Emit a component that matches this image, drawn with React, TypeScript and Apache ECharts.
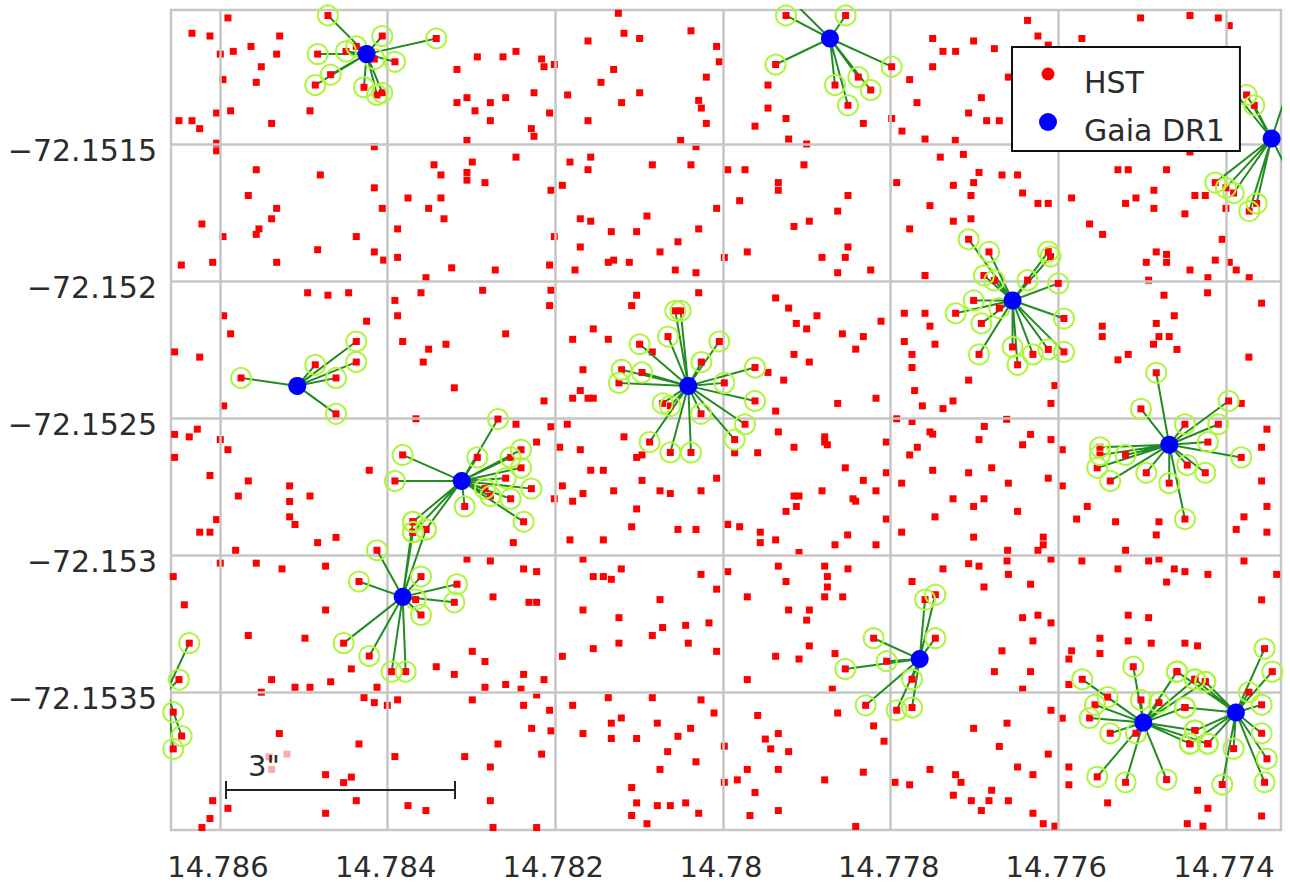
import React, { useEffect, useRef } from "react";
import * as echarts from "echarts";

// Sky positions are stored as micro-degree offsets: RA = 14.77 + a/1e6, Dec = -72.15 - b/1e6
const RA_BASE = 14.77;
const DEC_BASE = -72.15;
const raTicks = [14.786, 14.784, 14.782, 14.78, 14.778, 14.776, 14.774];
const decTicks = [-72.1515, -72.152, -72.1525, -72.153, -72.1535];

const hstField: number[][] = [
[15905,1040],[16334,1096],[16119,1106],[15288,1106],[15630,1144],[15996,1172],[15841,1162],[15324,1172],[15507,1218],[15964,1265],[15567,1275],[15873,1379],[16040,1387],[16489,1415],[16334,1415],[16242,1444],[15384,1425],[14926,1379],[16040,1497],[16040,1525],[14159,1510],[15567,1594],[14803,1613],[13447,1576],[13364,1613],[14159,1660],[15662,1688],[13757,1697],[13364,1697],[15324,1735],[14064,1735],[13511,1735],[15384,1773],[13328,1773],[16215,1792],[15535,1810],[15567,1830],[13881,1810],[15964,1838],[14374,1838],[14835,1886],[14159,1894],[14048,1924],[13881,1914],[16461,1942],[16087,1932],[15324,1932],[13543,1988],
[11248,1023],[11181,1096],[10994,1115],[10382,1087],[11610,1124],[10076,1144],[12930,1182],[12624,1182],[12469,1162],[12163,1190],[12135,1218],[12012,1210],[13173,1228],[11304,1228],[10044,1200],[10199,1256],[11455,1275],[12254,1313],[11853,1321],[10994,1313],[13054,1331],[13173,1349],[12775,1349],[12592,1331],[11209,1349],[10290,1341],[10258,1369],[12958,1379],[12068,1387],[12775,1415],[11610,1415],[10199,1425],[12286,1444],[12254,1472],[13054,1487],[10505,1487],[10322,1510],[12469,1548],[12990,1566],[11825,1566],[11578,1548],[11610,1594],[10843,1576],[10382,1576],[9944,1594],[13054,1604],[13054,1632],[12839,1641],[11916,1651],[12052,1669],[10076,1735],[11702,1773],[11578,1782],[10907,1763],[11332,1820],[11030,1820],[10290,1810],[12012,1838],[10537,1857],[11702,1876],[10751,1894],[11368,1932],[11304,1924],[11117,1932],[9984,1914],[13236,1952],[12716,1960],[12068,1942],[11765,1960],[10569,1960],[10322,1970],
[9463,1285],[9463,1369],[9248,1407],[9618,1435],[8326,1425],[7988,1407],[9217,1482],[9002,1500],[7865,1453],[7590,1482],[7229,1487],[7499,1115],[7376,1162],[7225,1162],[7010,1124],[6763,1152],[7499,1218],[6596,1256],[7773,1265],[6918,1331],[7686,1349],[7070,1387],[6855,1415],[6704,1415],[9737,1594],[9034,1576],[9340,1641],[9340,1669],[9801,1707],[8509,1688],[8632,1745],[9153,1801],[8970,1782],[9710,1894],[8509,1876],[8819,1914],[8541,1914],[8632,1970],[8238,1960],[7408,1548],[7133,1538],[6946,1604],[6672,1613],[7928,1641],[7252,1651],[7010,1641],[7042,1688],[7531,1725],[7252,1782],[7042,1773],[7773,1810],[7590,1980],
[6367,1049],[6243,1106],[6120,1139],[5719,1115],[5019,1040],[4430,1031],[4092,1040],[3961,1068],[6486,1613],[5289,1594],[5166,1594],[4709,1594],[6426,1679],[6243,1717],[6120,1717],[5842,1697],[4860,1669],[5074,1697],[5198,1717],[4371,1688],[4247,1688],[4860,1735],[4490,1755],[4001,1735],[5627,1792],[5472,1830],[4045,1848],[4832,1894],[4709,1903],[4709,1932],[4951,1932],[4128,1924],[3961,1932],[3878,1960],[3723,1988],[4430,1960],[4216,1988],[4923,1997],[4430,1529],
[14954,2043],[14712,2052],[14465,2043],[13913,2071],[13602,2043],[15956,2127],[13881,2127],[14251,2147],[15873,2193],[13821,2221],[13511,2249],[13304,2231],[16541,2259],[16242,2278],[13575,2296],[15956,2456],[13662,2503],[16541,2560],[16366,2569],[16270,2541],[15996,2579],[15905,2616],[16541,2644],[16119,2710],[15662,2730],[14219,2691],[15781,2785],[15169,2748],[15169,2805],[14926,2785],[15169,2861],[15105,2889],[16040,2871],[16242,2917],[16119,2917],[14616,2936],[14835,2955],[15813,2983],
[12867,2034],[12052,2034],[12068,2090],[12592,2193],[13205,2390],[12135,2438],[11030,2052],[11089,2090],[10290,2043],[11547,2175],[11793,2213],[11368,2213],[11670,2324],[11702,2400],[11793,2428],[11610,2428],[11547,2428],[10843,2259],[12469,2523],[12052,2532],[11857,2523],[12223,2588],[11181,2569],[11948,2607],[11702,2616],[11030,2644],[10966,2635],[11578,2691],[11427,2691],[10966,2728],[10076,2720],[11916,2748],[11670,2776],[11304,2766],[10751,2766],[10628,2776],[10262,2766],[12012,2795],[11793,2804],[11030,2832],[11089,2897],[10537,2907],[10322,2907],[9944,2888],[11825,2945],[11427,2945],[12501,2955],
[9372,2062],[9217,2099],[9125,2155],[8879,2127],[9002,2175],[8576,2193],[8326,2203],[8417,2249],[8115,2147],[9153,2268],[8970,2296],[9463,2334],[9276,2362],[8632,2447],[8175,2428],[9372,2475],[9340,2551],[9861,2627],[9586,2627],[9153,2607],[8787,2569],[8787,2588],[8755,2598],[8052,2588],[8541,2682],[8052,2700],[8326,2728],[8819,2766],[8175,2766],[9153,2785],[9093,2785],[8449,2795],[8417,2804],[9125,2823],[9248,2841],[8052,2869],[9948,2889],[9801,2897],[9555,2917],[9555,2955],[9372,2945],[8513,2927],[8664,2963],[8175,2963],[9093,2991],[7837,2118],[7590,2118],[7531,2165],[7837,2221],[7471,2231],[7745,2268],[7745,2316],[7070,2362],[7714,2400],[7622,2456],[7376,2466],[7256,2438],[7928,2503],[7745,2513],[6883,2531],[7531,2551],[7499,2559],[6946,2579],[7682,2607],[7773,2635],[7499,2691],[7070,2700],[6795,2682],[7869,2738],[7256,2795],[6887,2795],[7010,2823],[7471,2861],[7869,2917],[7010,2935],[6616,2505],[6596,2738],
[4740,2052],[4220,2043],[3575,2081],[4617,2127],[4832,2155],[5476,2165],[5476,2203],[4800,2203],[4677,2203],[4864,2231],[4585,2250],[5166,2268],[5289,2288],[3727,2278],[6041,2382],[6088,2447],[3818,2447],[3512,2541],[3575,2607],[6331,2560],[6426,2598],[6088,2579],[5953,2616],[6120,2720],[5953,2748],[3575,2730],[5655,2823],[3512,2823],[6486,2841],[5782,2869],[3786,2861],[5317,2879],[4800,2879],[3878,2907],[3512,2917],[4832,2927],[6180,2935],[6180,2963],[6243,2983],[6605,2983],[5198,2983],
[15996,3030],[15567,3030],[15260,3051],[14740,3041],[16557,3079],[16425,3182],[14740,3201],[15662,3294],[14986,3304],[14433,3416],[13420,3408],[15384,3455],[15105,3483],[14926,3483],[14680,3463],[14127,3483],[15507,3501],[14282,3521],[14159,3539],[14004,3549],[13881,3529],[15292,3652],[14342,3690],[13913,3736],[14740,3802],[14433,3811],[14525,3831],[16087,3897],[14374,3897],[13757,3915],[13543,3933],[15905,3925],[16119,3962],[16215,3995],[14740,3943],
[13054,3015],[12775,3022],[12378,3051],[12223,3061],[12743,3153],[12314,3173],[12223,3173],[12990,3352],[12839,3389],[13205,3436],[12378,3436],[12592,3473],[12135,3455],[12839,3483],[12409,3490],[12990,3529],[12223,3511],[12378,3549],[12068,3567],[12282,3633],[12052,3642],[12684,3690],[13081,3736],[12163,3727],[12775,3774],[12775,3897],[12743,3995],[12223,3995],[11670,3015],[11547,3079],[11427,3079],[11332,3089],[11213,3051],[10262,3071],[9944,3061],[10076,3125],[10751,3163],[11670,3201],[11241,3229],[10720,3265],[10843,3294],[10445,3257],[10167,3248],[11241,3322],[10414,3322],[11547,3342],[11916,3370],[10076,3352],[11368,3521],[10843,3521],[10262,3529],[11793,3549],[10107,3577],[11213,3595],[11332,3614],[10783,3614],[10386,3633],[11670,3652],[11332,3670],[11030,3670],[10537,3662],[10660,3718],[9984,3698],[10322,3755],[10751,3783],[9984,3830],[11089,3849],[11030,3905],[10783,3915],[10628,3915],[10445,3905],[10290,3943],[11089,3951],[10907,3981],
[9340,3041],[8787,3041],[8509,3051],[9248,3097],[8755,3079],[8755,3117],[8787,3153],[8572,3153],[9710,3153],[9217,3201],[8970,3201],[9002,3238],[8970,3332],[9372,3370],[9093,3380],[8664,3360],[9710,3455],[8696,3490],[7376,3051],[7070,3032],[6946,3041],[6612,3022],[6596,3071],[7745,3097],[6887,3117],[6672,3350],[6763,3426],[9586,3586],[8632,3577],[8203,3624],[8079,3680],[9340,3652],[9495,3672],[9431,3708],[9217,3718],[9710,3783],[9340,3783],[9829,3821],[8787,3821],[8326,3793],[9618,3867],[9340,3933],[9678,3951],[8417,3991],[7948,3830],[7773,3839],[7531,3783],[7225,3802],[7161,3830],[7252,3877],[6795,3859],[7038,3897],[6827,3897],[6918,3933],[7010,3633],[6612,3614],[6704,3699],[6596,3897],
[6088,3015],[5719,3022],[5289,3051],[4923,3022],[4800,3015],[4617,3051],[4490,3061],[4216,3071],[4709,3099],[3786,3022],[3396,3071],[3575,3164],[6331,3107],[6426,3229],[6243,3220],[6088,3248],[5166,3220],[4923,3229],[5504,3304],[5166,3314],[4892,3322],[4490,3322],[4339,3332],[6303,3314],[5504,3360],[5842,3350],[5874,3380],[6331,3426],[5874,3473],[6426,3490],[6088,3567],[5953,3596],[6120,3727],[6486,3774],[6303,3802],[5874,3774],[5874,3839],[5412,3905],[4339,3859],[4216,3925],[6303,3943],[6180,3981],[6041,3990],[4462,3981],[4275,3990],[3575,3953],
];
const hstFaded: number[][] = [[15415,3737],[15201,3727],[15384,3783]];

const gaiaCentres: number[][] = [
[14251,1172],[15078,2383],[8724,1115],[3456,1480],[13117,2730],[6546,2071],[10414,2383],[4677,2598],[13821,3153],[16636,3499],[7654,3380],[4987,3612],[3882,3575],
];

const matches0 = [[14712,1031],[14064,1106],[13420,1115],[14374,1144],[14497,1162],[14835,1172],[14159,1190],[13913,1200],[14680,1247],[14863,1285],[14282,1293],[14064,1313],[14127,1321]];
const matches1 = [[15749,2354],[14863,2306],[14374,2221],[14374,2296],[14616,2354],[14616,2485]];
const matches2 = [[9248,1031],[9181,975],[8537,1031],[9372,1210],[7988,1218],[8386,1256],[8664,1285],[8238,1303],[8509,1359]];
const matches3 = [[3754,1321],[3663,1359],[4013,1267],[3297,1334],[4128,1641],[4001,1660],[3909,1679],[3635,1717],[3723,1745],[3317,1565]];
const matches4 = [[12684,2504],[12930,2644],[12533,2644],[12409,2616],[12409,2682],[12592,2720],[12286,2758],[12839,2758],[12775,2785],[12533,2795],[13081,2823],[12378,2879],[13821,2635],[13913,2730],[13698,2879],[13698,2917],[13543,2907]];
const matches5 = [[7070,1848],[6827,1894],[6887,1980],[6763,1998],[6120,1893],[6092,1911],[6367,1997],[6001,2009],[7010,2071],[7225,2118],[6918,2155],[6704,2099],[6946,2268],[5933,2137],[5933,2259],[6120,2250],[6303,2268],[6546,2241],[6486,2306]];
const matches6 = [[10569,2109],[10505,2109],[10044,2221],[10656,2203],[10994,2231],[10258,2296],[11209,2324],[10966,2334],[11241,2372],[9984,2372],[10720,2447],[10628,2456],[10262,2485],[10875,2588],[10628,2626],[10382,2626],[9618,2316],[9618,2438],[9737,2523],[9861,2579]];
const matches7 = [[4832,2335],[5015,2467],[3969,2438],[4490,2523],[4092,2523],[4216,2588],[3818,2644],[5504,2607],[5504,2635],[5198,2635],[5536,2682],[5381,2730],[4951,2700],[4462,2672],[4247,2700],[4677,2738],[4490,2869]];
const matches8 = [[14342,3097],[13602,3079],[14525,3322],[14219,3369],[13952,3426],[13785,3426],[13602,3219],[13666,3163],[13173,3107],[13205,3173],[13698,2879],[13698,2917],[13543,2907],[14127,2983]];
const matches9 = [[16366,3322],[16489,3455],[16557,3574],[16457,3661],[16557,3708]];
const matches10 = [[7590,3163],[7467,3145],[7467,3304],[8203,3304],[8048,3388],[8541,3416],[7745,3454],[8298,3549],[7928,3567],[7745,3557]];
const matches11 = [[5106,3408],[5715,3454],[5412,3519],[5563,3547],[5015,3529],[4800,3539],[5627,3595],[5381,3651],[5074,3651],[5536,3810],[5198,3830],[4709,3820],[4585,3426],[4371,3454],[4247,3463],[4490,3557],[4371,3641],[4430,3689],[4216,3689]];
const matches12 = [[4585,3426],[4371,3454],[4247,3463],[4490,3557],[4371,3641],[4430,3689],[4216,3689],[3727,3501],[3540,3342],[3448,3426],[3575,3547],[3575,3651],[3512,3744],[3540,3830],[3909,3707],[4045,3838]];
const matchSets = [matches0, matches1, matches2, matches3, matches4, matches5, matches6, matches7, matches8, matches9, matches10, matches11, matches12];

const sky = (p: number[]) => [RA_BASE + p[0] / 1e6, DEC_BASE - p[1] / 1e6];
const FONT = "DejaVu Sans";
const INK = "#2b2b2b";

export default function App() {
  const ref = useRef<HTMLDivElement>(null);
  useEffect(() => {
    document.body.style.margin = "0";
    const chart = echarts.init(ref.current!, null, { renderer: "svg" });
    const allMatches = matchSets.flat().map(sky);
    const lineSeries = gaiaCentres.map((c, i) => {
      const centre = sky(c);
      const data: number[][] = [];
      matchSets[i].forEach((m) => { data.push(centre, sky(m)); });
      return {
        type: "line", name: "match" + i, data, showSymbol: false, symbol: "none", z: 3, silent: true,
        lineStyle: { color: "#228b22", width: 2, opacity: 1 }, itemStyle: { color: "#228b22" },
      };
    });
    const split = { show: true, lineStyle: { color: "#c6c6c6", width: 2.5 } };
    chart.setOption({
      animation: false,
      grid: { left: 171, top: 10, width: 1110, height: 820, show: true, borderColor: "#c6c6c6", borderWidth: 2.5, backgroundColor: "#fff" },
      xAxis: {
        type: "value", inverse: true, min: 14.773344, max: 14.786584, z: 2,
        axisLine: { show: false }, axisTick: { show: false, customValues: raTicks },
        splitLine: split,
        axisLabel: { fontFamily: FONT, fontSize: 29, color: INK, customValues: raTicks, margin: 22, padding: [0, 4, 0, 0], formatter: (v: number) => String(+v.toFixed(3)), hideOverlap: false },
      },
      yAxis: {
        type: "value", min: -72.154004, max: -72.151011, z: 2,
        axisLine: { show: false }, axisTick: { show: false, customValues: decTicks },
        splitLine: split,
        axisLabel: { fontFamily: FONT, fontSize: 30, color: INK, customValues: decTicks, margin: 14, verticalAlign: "top", lineHeight: 13, formatter: (v: number) => "\u2212" + String(+Math.abs(v).toFixed(4)) },
      },
      legend: {
        left: 1012, top: 47, orient: "vertical", z: 20, backgroundColor: "#fff", borderColor: "#111", borderWidth: 2,
        padding: [18, 15, 4, 27], itemWidth: 18, itemHeight: 34, itemGap: 14, align: "left",
        selectedMode: false,
        textStyle: { fontFamily: FONT, fontSize: 30, color: INK, padding: [0, 0, 0, 22] },
        data: [
          { name: "HST", icon: "path://M0 0L0 0M18 34L18 34M2.5 9a6.5 6.5 0 1 0 13 0a6.5 6.5 0 1 0 -13 0z" },
          { name: "Gaia DR1", icon: "path://M0 0L0 0M18 34L18 34M0 9a9 9 0 1 0 18 0a9 9 0 1 0 -18 0z" },
        ],
      },
      graphic: [
        { type: "line", z: 10, shape: { x1: 226, y1: 790, x2: 455, y2: 790 }, style: { stroke: "#222", lineWidth: 2 } },
        { type: "line", z: 10, shape: { x1: 226, y1: 781, x2: 226, y2: 799 }, style: { stroke: "#222", lineWidth: 2 } },
        { type: "line", z: 10, shape: { x1: 455, y1: 781, x2: 455, y2: 799 }, style: { stroke: "#222", lineWidth: 2 } },
        { type: "text", z: 10, x: 248, y: 751, style: { text: '3"', fontFamily: FONT, fontSize: 29, fill: INK } },
      ],
      series: [
        { type: "scatter", name: "HST", data: hstField.map(sky), symbol: "rect", symbolSize: 7, z: 1, itemStyle: { color: "#ff0000", opacity: 1 }, silent: true },
        { type: "scatter", name: "HST faded", data: hstFaded.map(sky), symbol: "rect", symbolSize: 7, z: 1, itemStyle: { color: "#ffaaaa", opacity: 1 }, silent: true },
        { type: "scatter", name: "HST matched", data: allMatches, symbol: "rect", symbolSize: 7, z: 3, itemStyle: { color: "#ff0000", opacity: 1 }, silent: true },
        ...lineSeries,
        { type: "scatter", name: "rings", data: allMatches, symbol: "circle", symbolSize: 20, z: 4, itemStyle: { color: "transparent", borderColor: "#aef53c", borderWidth: 2, opacity: 1 }, silent: true },
        { type: "scatter", name: "Gaia DR1", data: gaiaCentres.map(sky), symbol: "circle", symbolSize: 18, z: 5, itemStyle: { color: "#0000ff", opacity: 1 }, silent: true },
      ],
    });
    return () => chart.dispose();
  }, []);
  return <div ref={ref} style={{ position: "absolute", left: 0, top: 0, width: 1290, height: 885, background: "#fff" }} />;
}
